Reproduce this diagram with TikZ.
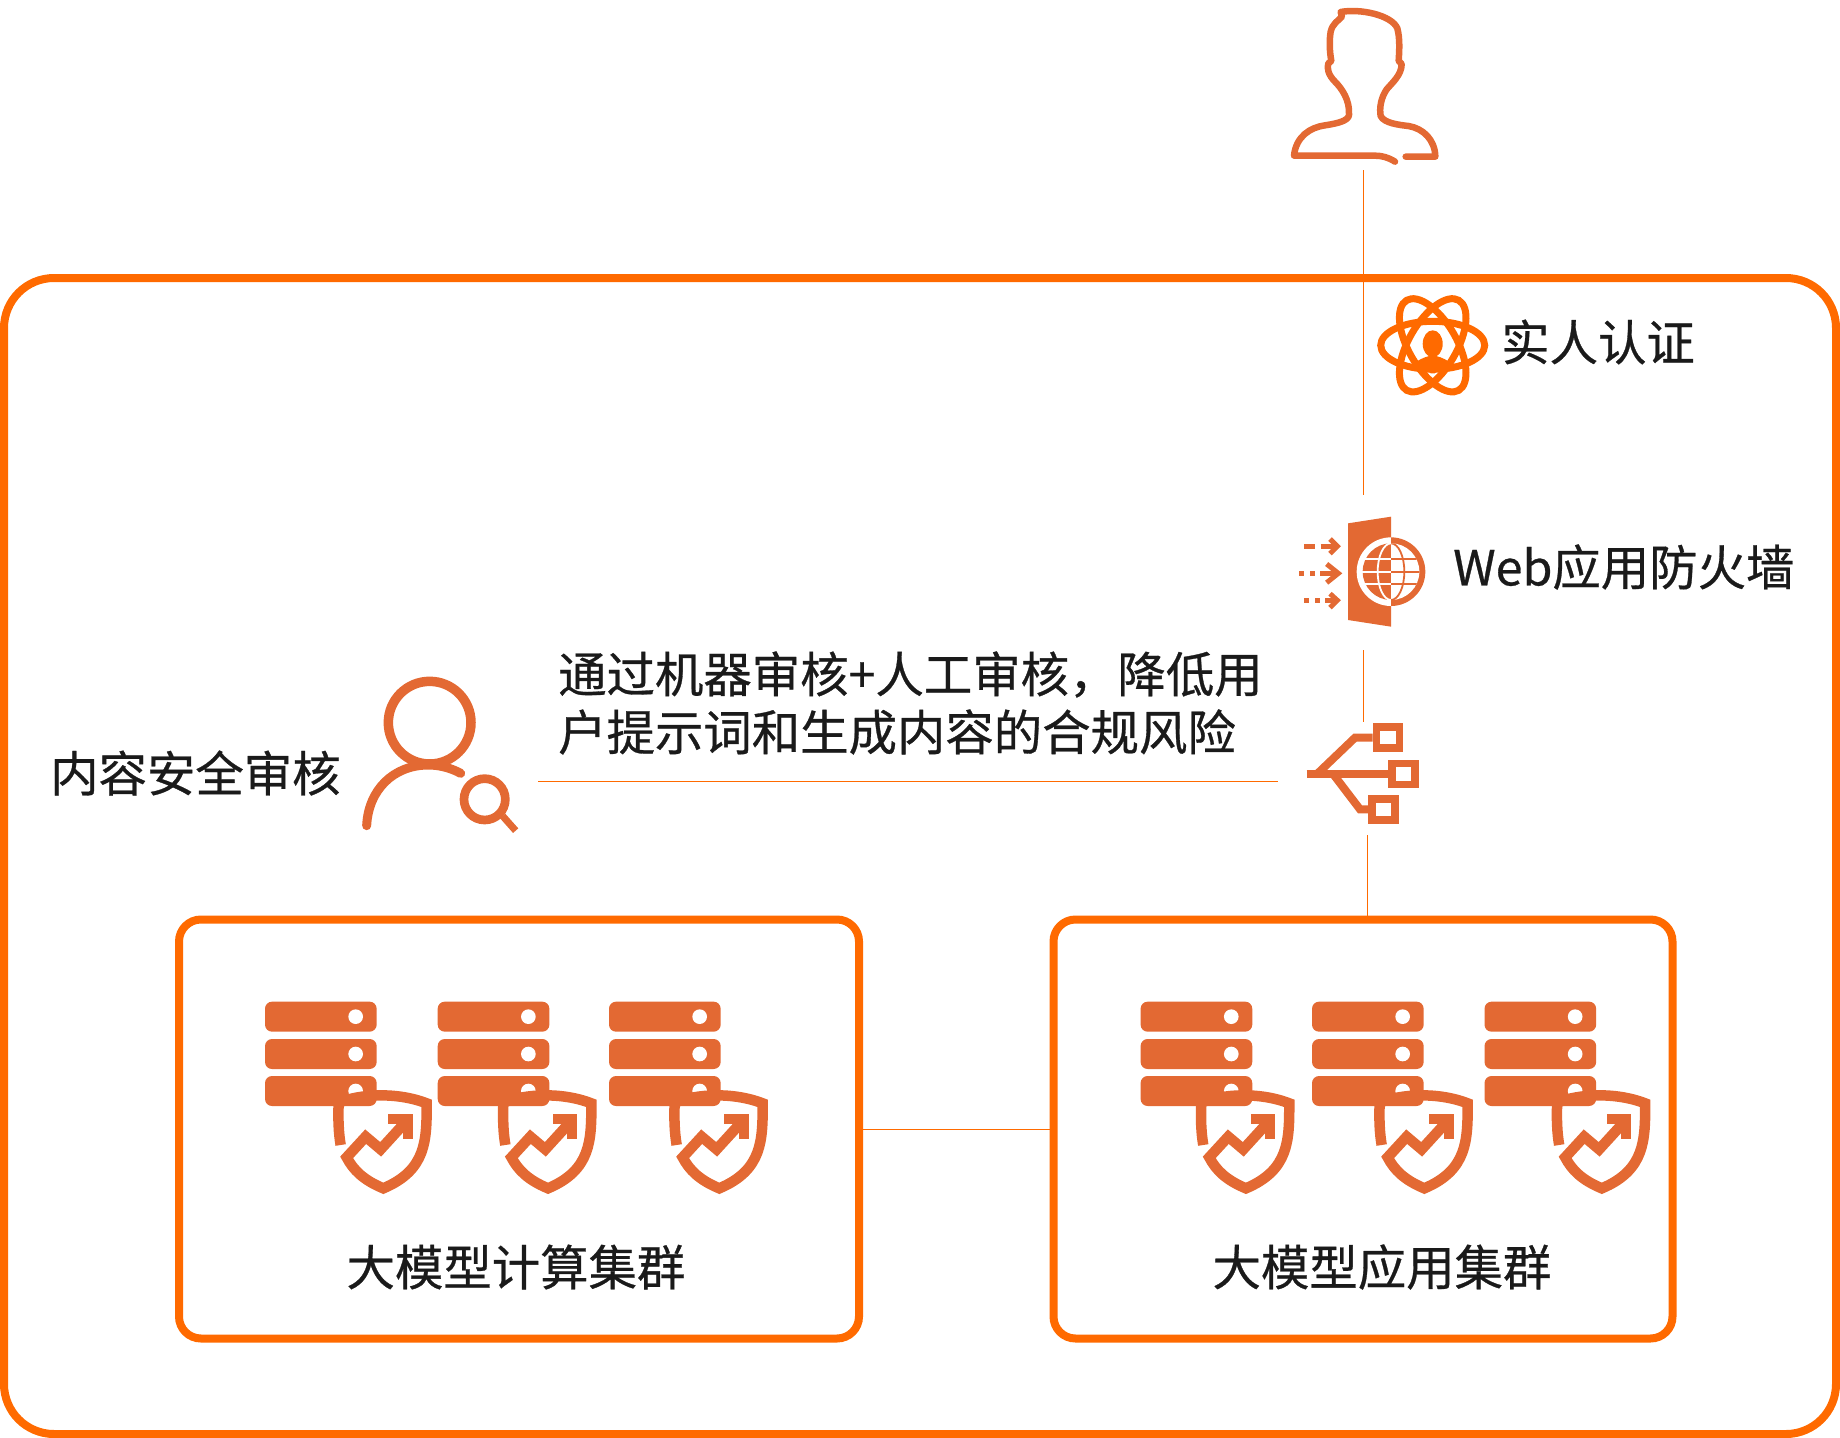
\documentclass[tikz,border=0pt]{standalone}
\usepackage{fontspec}
\setmainfont{Noto Sans CJK SC}[FakeBold=0.6]
\definecolor{framecol}{HTML}{FF6A00}
\definecolor{iconcol}{HTML}{E36933}
\definecolor{textcol}{HTML}{1A1A1A}
\tikzset{
  iconspot/.style={inner sep=0pt, outer sep=0pt},
  link/.style={draw=framecol, line width=1pt},
  cluster/.style={draw=framecol, line width=8pt, rounded corners=22pt, inner sep=0pt, outer sep=0pt,
    minimum width=680pt, minimum height=419pt},
  caption/.style={font=\fontsize{48.4}{58}\selectfont, text=textcol, inner sep=0pt},
  iconline/.style={draw=iconcol, line cap=round, line join=round, line width=6.5pt}
}
\begin{document}
\begin{tikzpicture}[x=1pt, y=-1pt]
  \useasboundingbox (0,0) rectangle (1840,1438);
  \draw[framecol, line width=8pt, rounded corners=50pt] (4,278) rectangle (1836,1434);
  % anchors for the links
  \node[iconspot, minimum width=150pt, minimum height=170pt] (user) at (1363,85) {};
  \node[iconspot, minimum width=120pt, minimum height=155pt] (waf) at (1363,572.5) {};
  \node[iconspot, minimum width=178pt, minimum height=113pt] (router) at (1367,778.5) {};
  \node[iconspot, minimum width=180pt, minimum height=160pt] (audit) at (448,781) {};
  \node[cluster] (compute) at (519,1129) {};
  \node[cluster, minimum width=619pt] (app) at (1363,1129) {};
  % links
  \draw[link] (user.south) -- (waf.north);
  \draw[link] (waf.south) -- (waf.south |- router.north);
  \draw[link] (router.south) -- (router.south |- app.north);
  \draw[link] (audit.east) -- (audit.east -| router.west);
  \draw[link] (compute.east) -- (app.west);
  % user
  \begin{scope}[shift={(1260,0)}, scale=1/3]
    \draw[iconline] (405,485) .. controls (385,472) and (365,467) .. (345,467) -- (102,467)
      .. controls (108,410) and (150,382) .. (195,376) .. controls (235,370) and (265,362) .. (267,345)
      .. controls (270,300) and (245,265) .. (225,245) .. controls (205,225) and (200,205) .. (205,190)
      -- (214,183) .. controls (208,150) and (208,120) .. (212,95) .. controls (218,70) and (235,62) .. (246,50)
      -- (242,36) .. controls (300,25) and (395,45) .. (412,85) .. controls (420,115) and (418,150) .. (416,183)
      -- (425,192) .. controls (425,225) and (395,250) .. (380,268) .. controls (362,295) and (358,325) .. (362,348)
      .. controls (372,370) and (420,375) .. (445,378) .. controls (490,385) and (525,420) .. (526,470) -- (437,470);
  \end{scope}
  % real person check
  \begin{scope}[shift={(1432.7,345.3)}]
    \foreach \ang in {0,60,120}
      \draw[framecol, line width=7pt, rotate=\ang] (0,0) ellipse (52pt and 24pt);
    \fill[framecol] (0,-1.5) ellipse (10pt and 13.5pt);
    \fill[framecol] (-17,17) .. controls (-10,12) and (-5,11) .. (0,10) .. controls (5,11) and (10,12) .. (17,17) -- (2,28) -- (-2,28) -- cycle;
  \end{scope}
  \node[caption, anchor=west] (authlabel) at (1501,342) {实人认证};
  % firewall
  \begin{scope}[shift={(1280,500)}, scale=1/3]
    \fill[iconcol] (204,70) -- (333,50) -- (333,380) -- (204,360) -- cycle;
    \begin{scope}
      \clip (220,100) rectangle (333,330);
      \fill[white] (333,215) circle (103);
      \fill[iconcol] (333,215) circle (85);
      \draw[white, line width=1.8pt] (333,215) ellipse (40 and 85);
      \foreach \gy in {178,215,252} \draw[white, line width=1.8pt] (240,\gy) -- (333,\gy);
    \end{scope}
    \begin{scope}
      \clip (333,100) rectangle (440,330);
      \fill[iconcol] (333,215) circle (103);
      \fill[white] (333,215) circle (85);
      \begin{scope}
        \clip (333,215) circle (85);
        \draw[iconcol, line width=1.8pt] (333,215) ellipse (40 and 85);
        \foreach \gy in {178,215,252} \draw[iconcol, line width=1.8pt] (333,\gy) -- (420,\gy);
      \end{scope}
    \end{scope}
    \draw[iconcol, line width=5pt] (72,139) -- (105,139) (122,139) -- (165,139);
    \draw[iconcol, line width=5pt] (150,117) -- (172,139) -- (150,161);
    \draw[iconcol, line width=5pt] (57,220) -- (72,220) (90,220) -- (105,220) (120,220) -- (170,220);
    \draw[iconcol, line width=5pt] (140,192) -- (175,220) -- (140,248);
    \draw[iconcol, line width=5pt] (72,301) -- (88,301) (105,301) -- (120,301) (135,301) -- (165,301);
    \draw[iconcol, line width=5pt] (150,281) -- (172,301) -- (150,323);
  \end{scope}
  \node[caption, anchor=west] (waflabel) at (1453,567) {Web应用防火墙};
  % router
  \begin{scope}[shift={(1280,700)}, scale=1/3]
    \draw[iconcol, line width=8pt] (80,223) -- (325,223);
    \draw[iconcol, line width=8pt] (110,223) -- (225,113) -- (278,113);
    \draw[iconcol, line width=8pt] (160,223) -- (240,328) -- (265,328);
    \draw[iconcol, line width=7.3pt] (289,81) rectangle (359,144);
    \draw[iconcol, line width=7.3pt] (336,191) rectangle (405,254);
    \draw[iconcol, line width=7.3pt] (276,297) rectangle (345,360);
  \end{scope}
  % audit
  \begin{scope}[shift={(340,660)}, scale=1/3]
    \draw[iconcol, line width=9.5pt] (269,188) circle (124);
    \draw[iconcol, line width=9pt, line cap=round] (80,497) .. controls (85,390) and (160,315) .. (265,315)
      .. controls (300,315) and (335,325) .. (362,340);
    \draw[iconcol, line width=8.7pt] (434,418) circle (62);
    \draw[iconcol, line width=7pt] (488,468) -- (527,512);
  \end{scope}
  \node[caption, anchor=west] (auditlabel) at (50,773) {内容安全审核};
  \node[caption, anchor=west, align=left] (auditnote) at (558,703) {通过机器审核+人工审核，降低用\\户提示词和生成内容的合规风险};
  % clusters
  \foreach \sx/\dx in {265/0,437.7/-24,609/-24,1140.6/-39,1312/-18,1484.5/-3} {
    \begin{scope}[shift={(\sx-15,980)}, scale=1/3]
      \foreach \by in {65,177,288} {
        \fill[iconcol, rounded corners=7pt] (45,\by) rectangle (380,\by+90);
        \fill[white] (317,\by+45) circle (22);
      }
      \begin{scope}[xshift=\dx]
        \draw[iconcol, line width=10.5pt, line join=miter] (272,495) .. controls (266,460) and (264,420) .. (266,368)
          .. controls (330,342) and (440,335) .. (530,370)
          .. controls (530,480) and (530,570) .. (400,625)
          .. controls (340,600) and (310,570) .. (290,532) -- (347,470) -- (392,508) -- (465,428);
        \draw[iconcol, line width=10pt, line join=miter] (415,417) -- (473,417) -- (473,477);
      \end{scope}
    \end{scope}
  }
  \node[caption] (computelabel) at (516,1267) {大模型计算集群};
  \node[caption] (applabel) at (1382,1267) {大模型应用集群};
\end{tikzpicture}
\end{document}
